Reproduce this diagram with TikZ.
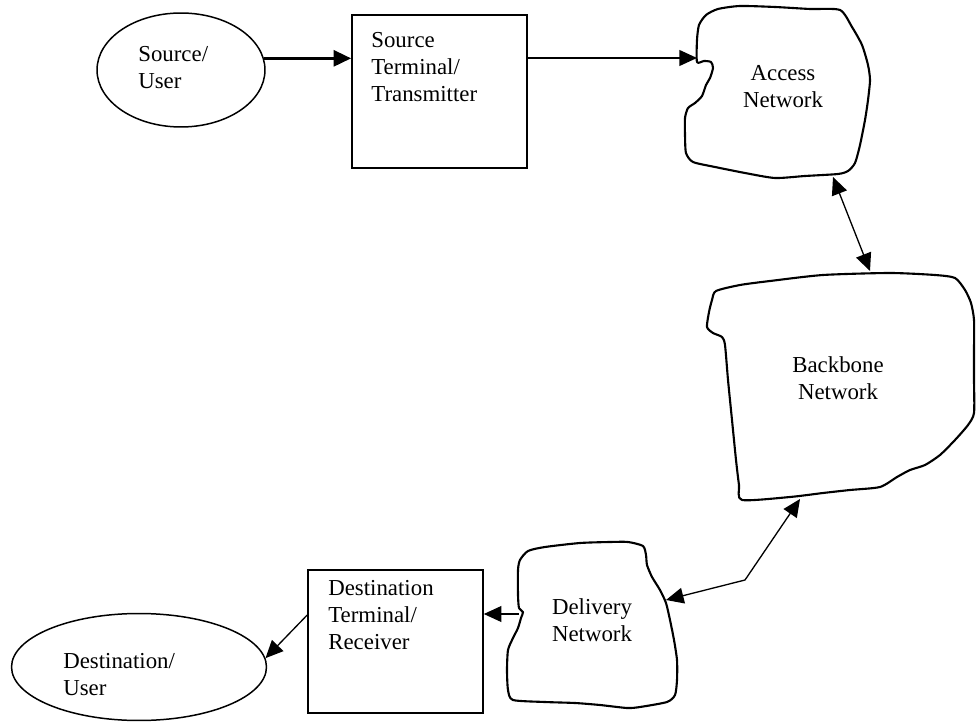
\documentclass[tikz,border=0pt]{standalone}
\usepackage{fontspec}
\setmainfont{Liberation Serif}
\usetikzlibrary{arrows.meta,shapes.geometric}
\begin{document}
\begin{tikzpicture}[x=0.02cm,y=-0.02cm,
  >={Triangle[length=10pt,width=9pt]},
  lbl/.style={inner sep=0pt,font=\fontsize{13}{15.5}\selectfont},
  ltxt/.style={lbl,anchor=north west,align=left},
  ctxt/.style={lbl,anchor=north,align=center},
  oval/.style={draw,ellipse,line width=0.85pt,inner sep=0pt},
  termbox/.style={draw,rectangle,line width=0.9pt,inner sep=0pt},
  cloud/.style={draw,line width=1.2pt,line join=round},
  conn/.style={line width=0.75pt,->},
  dconn/.style={line width=0.75pt,<->},
  thickconn/.style={line width=1.9pt,-{Triangle[length=10pt,width=9pt]}}]
\useasboundingbox (0,0) rectangle (976,722);

% --- nodes: ellipses and boxes
\node[oval,minimum width=3.36cm,minimum height=2.28cm] (srcE) at (181,70) {};
\node[termbox,minimum width=3.5cm,minimum height=3.06cm] (srcR) at (439.5,91.5) {};
\node[termbox,minimum width=3.5cm,minimum height=2.86cm] (dstR) at (395.5,641.5) {};
\node[oval,minimum width=5.1cm,minimum height=2.14cm] (dstE) at (139,667) {};

% --- clouds
\draw[cloud] plot[smooth cycle,tension=0.4] coordinates {
 (697,62) (697,40) (699,25) (706,15) (718,9) (740,6) (775,7) (810,9) (840,10)
 (852,27) (862,45) (868,65) (870,80) (868,100) (865,120) (860,145)
 (855,163) (848,171) (838,174) (805,176) (775,178) (745,173) (715,167)
 (693,162) (686,153) (685,135) (685,118) (688,108) (695,103) (702,96)
 (706,85) (710,78) (713,68) (711,62) (704,61)};
\draw[cloud] plot[smooth cycle,tension=0.4] coordinates {
 (716,291) (740,285) (770,281) (823,275) (890,273) (935,275) (955,278)
 (965,290) (971,303) (974,320) (974,350) (974,380) (974,413) (968,425)
 (955,440) (940,455) (925,465) (910,470) (897,477) (880,487) (850,490)
 (823,493) (790,497) (742,500) (739,485) (736,460) (732,420) (728,380)
 (725,345) (722,337) (713,333) (707,327) (709,312) (712,300)};
\draw[cloud] plot[smooth cycle,tension=0.4] coordinates {
 (518,570) (520,560) (528,551) (545,547) (580,543) (610,542) (628,542)
 (643,546) (646,555) (647,565) (652,577) (660,590) (666,603) (670,620)
 (674,640) (677,660) (677,680) (675,695) (667,702) (640,707) (627,708)
 (600,705) (575,703) (545,702) (513,700) (508,690) (507,670) (508,650)
 (513,638) (518,628) (521,618) (523,612) (519,608) (518,595)};

% --- connector end points on the clouds
\coordinate (accIn) at (697,58);
\coordinate (accBot) at (833,177);
\coordinate (bbTop) at (870,271);
\coordinate (bbBot) at (800,499);
\coordinate (bend) at (745,580);
\coordinate (delIn) at (666,600);
\coordinate (delOut) at (519,614);

% --- texts
\node[ltxt] (srcT) at (138,43.4) {\rule{0pt}{10pt}Source/\\User};
\node[ltxt] (srcRT) at (371,29.4) {\rule{0pt}{10pt}Source\\Terminal/\\Transmitter};
\node[ctxt] (accT) at (783,62.4) {\rule{0pt}{10pt}Access\\Network};
\node[ctxt] (bbT) at (838,354.4) {\rule{0pt}{10pt}Backbone\\Network};
\node[ctxt] (delT) at (592,596.4) {\rule{0pt}{10pt}Delivery\\Network};
\node[ltxt] (dstRT) at (328,577.4) {\rule{0pt}{10pt}Destination\\Terminal/\\Receiver};
\node[ltxt] (dstT) at (63,650.4) {\rule{0pt}{10pt}Destination/\\User};

% --- connectors
\draw[thickconn] (srcE.8) -- (srcE.8 -| srcR.west);
\draw[conn] (srcR.east |- accIn) -- (accIn);
\draw[dconn] (accBot) -- (bbTop);
\draw[dconn] (bbBot) -- (bend) -- (delIn);
\draw[conn] (delOut) -- (delOut -| dstR.east);
\draw[conn] ([yshift=0.53cm]dstR.west) -- (dstE.4);
\end{tikzpicture}
\end{document}
